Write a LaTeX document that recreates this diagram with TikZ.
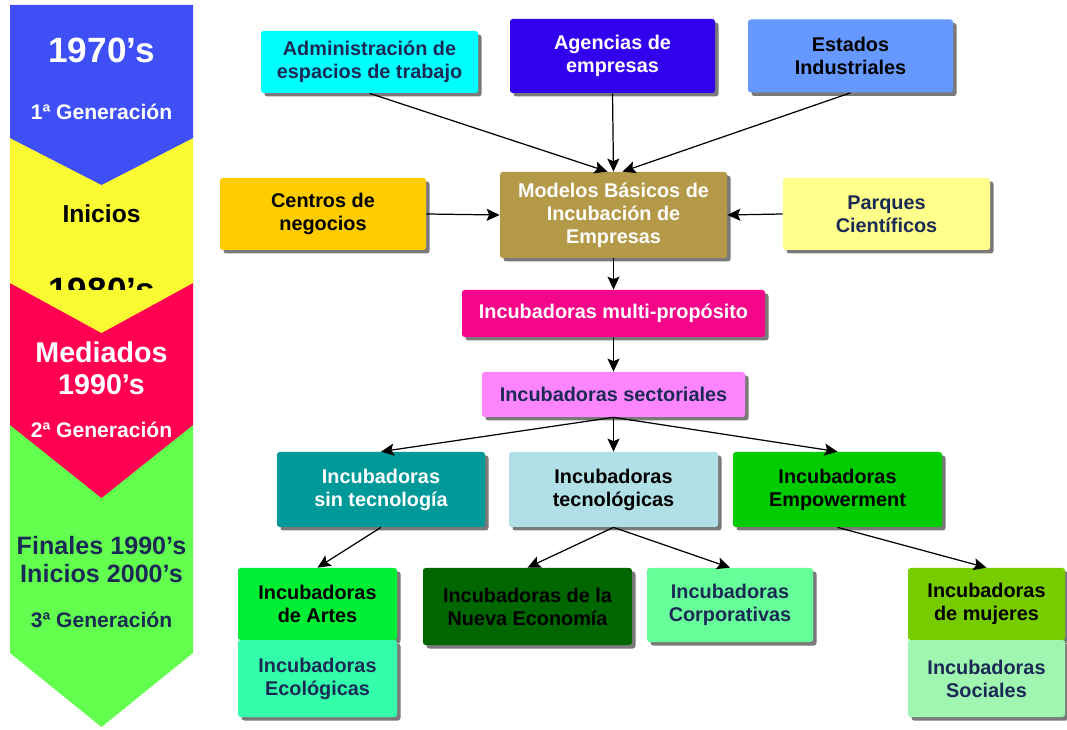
\documentclass[tikz,border=0pt]{standalone}
\usepackage{fontspec}
\setmainfont{Liberation Sans}
\definecolor{EraBlue}{HTML}{3D4FF5}
\definecolor{EraYellow}{HTML}{FAFA32}
\definecolor{EraRed}{HTML}{FF0052}
\definecolor{EraGreen}{HTML}{63FF4F}
\definecolor{TextNavy}{HTML}{1B2A55}
\definecolor{AdminCyan}{HTML}{00FFFF}
\definecolor{AgencyBlue}{HTML}{3300EE}
\definecolor{StateBlue}{HTML}{6699FF}
\definecolor{CentreGold}{HTML}{FFCC00}
\definecolor{ModelKhaki}{HTML}{B49A48}
\definecolor{ParkYellow}{HTML}{FFFF8C}
\definecolor{MultiPink}{HTML}{F5058A}
\definecolor{SectorPink}{HTML}{FF85FF}
\definecolor{NoTechTeal}{HTML}{009999}
\definecolor{TechBlue}{HTML}{B0E0E6}
\definecolor{PowerGreen}{HTML}{00CC00}
\definecolor{ArtGreen}{HTML}{00EE33}
\definecolor{EcoAqua}{HTML}{33FFAA}
\definecolor{EconGreen}{HTML}{006600}
\definecolor{CorpGreen}{HTML}{66FF99}
\definecolor{WomenGreen}{HTML}{77CC00}
\definecolor{SocialGreen}{HTML}{A0F5B0}
\usetikzlibrary{arrows.meta, shadows}

\begin{document}
\begin{tikzpicture}[
    box/.style={rounded corners=1.5pt, align=center, inner sep=0pt, font=\fontsize{11.3}{13.1}\selectfont\bfseries, drop shadow={shadow xshift=0.7mm, shadow yshift=-0.7mm, fill=black!65, opacity=0.8}},
    era/.style={anchor=base, font=\fontsize{#1}{#1}\selectfont\bfseries},
    arr/.style={-{Stealth[length=2.6mm, width=2.4mm, inset=0.5mm]}, line width=0.7pt, black}
  ]
  \useasboundingbox (0,0) rectangle (21.34,14.58);

  \fill[EraGreen] (0.2,6.2) -- (3.86,6.2) -- (3.86,1.52) -- (2.03,0.04) -- (0.2,1.52) -- cycle;
  \fill[EraRed] (0.2,9.0) -- (3.86,9.0) -- (3.86,6.08) -- (2.03,4.62) -- (0.2,6.08) -- cycle;
  \fill[EraYellow] (0.2,11.9) -- (3.86,11.9) -- (3.86,8.92) -- (2.03,7.92) -- (0.2,8.92) -- cycle;
  \fill[EraBlue] (0.2,14.48) -- (3.86,14.48) -- (3.86,11.82) -- (2.03,10.88) -- (0.2,11.82) -- cycle;

  \node[era=20, text=white] (y70) at (2.03,13.32) {1970’s};
  \node[era=12, text=white] (gen1) at (2.03,12.18) {1ª Generación};
  \node[era=14] (ini80) at (2.03,10.12) {Inicios};
  \begin{scope}
    \clip (0.2,8.78) rectangle (3.86,9.6);
    \node[era=20] (y80) at (2.03,8.52) {1980’s};
  \end{scope}
  \node[era=16.3, text=white] (mid90) at (2.03,7.32) {Mediados};
  \node[era=16.3, text=white] (y90) at (2.03,6.68) {1990’s};
  \node[era=12, text=white] (gen2) at (2.03,5.82) {2ª Generación};
  \node[era=14.3, text=TextNavy] (fin90) at (2.03,3.48) {Finales 1990’s};
  \node[era=14.3, text=TextNavy] (ini00) at (2.03,2.92) {Inicios 2000’s};
  \node[era=12, text=TextNavy] (gen3) at (2.03,2.04) {3ª Generación};

  \node[box, fill=AdminCyan, text=TextNavy, minimum width=4.34cm, minimum height=1.24cm] (admin) at (7.39,13.34) {Administración de\\espacios de trabajo};
  \node[box, fill=AgencyBlue, text=white, minimum width=4.1cm, minimum height=1.48cm] (agency) at (12.25,13.46) {Agencias de\\empresas};
  \node[box, fill=StateBlue, text=black, minimum width=4.1cm, minimum height=1.46cm] (states) at (17.01,13.46) {Estados\\Industriales};
  \node[box, fill=CentreGold, text=black, minimum width=4.12cm, minimum height=1.44cm] (centres) at (6.46,10.30) {Centros de\\negocios};
  \node[box, fill=ModelKhaki, text=white, minimum width=4.54cm, minimum height=1.72cm] (models) at (12.27,10.28) {Modelos Básicos de\\Incubación de\\Empresas};
  \node[box, fill=ParkYellow, text=TextNavy, minimum width=4.14cm, minimum height=1.44cm] (parks) at (17.73,10.30) {Parques\\Científicos};
  \node[box, fill=MultiPink, text=white, minimum width=6.06cm, minimum height=0.94cm] (multi) at (12.27,8.31) {Incubadoras multi-propósito};
  \node[box, fill=SectorPink, text=TextNavy, minimum width=5.26cm, minimum height=0.9cm] (sector) at (12.27,6.69) {Incubadoras sectoriales};
  \node[box, fill=NoTechTeal, text=white, minimum width=4.16cm, minimum height=1.5cm] (notech) at (7.62,4.79) {Incubadoras\\sin tecnología};
  \node[box, fill=TechBlue, text=black, minimum width=4.18cm, minimum height=1.5cm] (tech) at (12.27,4.79) {Incubadoras\\tecnológicas};
  \node[box, fill=PowerGreen, text=black, minimum width=4.18cm, minimum height=1.5cm] (power) at (16.75,4.79) {Incubadoras\\Empowerment};
  \node[box, fill=ArtGreen, text=black, minimum width=3.18cm, minimum height=1.44cm] (arts) at (6.35,2.50) {Incubadoras\\de Artes};
  \node[box, fill=EcoAqua, text=TextNavy, minimum width=3.18cm, minimum height=1.54cm] (eco) at (6.35,1.01) {Incubadoras\\Ecológicas};
  \node[box, fill=EconGreen, text=black, minimum width=4.18cm, minimum height=1.54cm] (econ) at (10.55,2.45) {Incubadoras de la\\Nueva Economía};
  \node[box, fill=CorpGreen, text=TextNavy, minimum width=3.32cm, minimum height=1.48cm] (corp) at (14.60,2.48) {Incubadoras\\Corporativas};
  \node[box, fill=WomenGreen, text=black, minimum width=3.14cm, minimum height=1.44cm] (women) at (19.73,2.50) {Incubadoras\\de mujeres};
  \node[box, fill=SocialGreen, text=TextNavy, minimum width=3.14cm, minimum height=1.54cm] (social) at (19.73,1.01) {Incubadoras\\Sociales};

  \draw[arr] (admin.south) -- ([xshift=-1.2mm]models.north);
  \draw[arr] (agency.south) -- (models.north);
  \draw[arr] (states.south) -- ([xshift=1.8mm]models.north);
  \draw[arr] (centres.east) -- (models.west);
  \draw[arr] (parks.west) -- (models.east);
  \draw[arr] (models.south) -- (multi.north);
  \draw[arr] (multi.south) -- (sector.north);
  \draw[arr] (sector.south) -- (notech.north);
  \draw[arr] (sector.south) -- (tech.north);
  \draw[arr] (sector.south) -- (power.north);
  \draw[arr] (notech.south) -- (arts.north);
  \draw[arr] (tech.south) -- (econ.north);
  \draw[arr] (tech.south) -- (corp.north);
  \draw[arr] (power.south) -- (women.north);
\end{tikzpicture}
\end{document}
